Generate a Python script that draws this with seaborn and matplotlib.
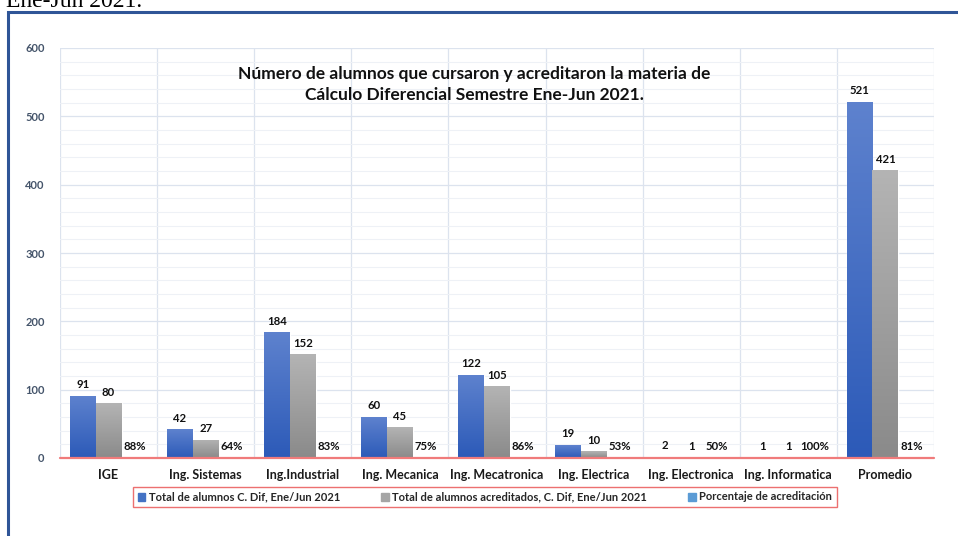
import numpy as np
import pandas as pd
import matplotlib
matplotlib.use("Agg")
import matplotlib.pyplot as plt
import seaborn as sns
from matplotlib.patches import Rectangle
from matplotlib.colors import LinearSegmentedColormap
from matplotlib.ticker import MultipleLocator

categories = ["IGE", "Ing. Sistemas", "Ing.Industrial", "Ing. Mecanica", "Ing. Mecatronica",
              "Ing. Electrica", "Ing. Electronica", "Ing. Informatica", "Promedio"]
total_alumnos = [91, 42, 184, 60, 122, 19, 2, 1, 521]
acreditados = [80, 27, 152, 45, 105, 10, 1, 1, 421]
porcentaje = [0.88, 0.64, 0.83, 0.75, 0.86, 0.53, 0.50, 1.00, 0.81]
series_names = ["Total de alumnos C. Dif, Ene/Jun 2021",
                "Total de alumnos acreditados, C. Dif, Ene/Jun 2021",
                "Porcentaje de acreditación"]
title_text = "Número de alumnos que cursaron y acreditaron la materia de\nCálculo Diferencial Semestre Ene-Jun 2021."

sns.set_theme(style="white")
plt.rcParams['font.family'] = ['Lato', 'DejaVu Sans']

df = pd.DataFrame({
    "cat": categories * 3,
    "serie": [series_names[0]] * 9 + [series_names[1]] * 9 + [series_names[2]] * 9,
    "valor": total_alumnos + acreditados + porcentaje,
})

colors = ["#4472C4", "#A5A5A5", "#5B9BD5"]
grad_top = ["#5E82CE", "#B4B4B4", "#5B9BD5"]
grad_bot = ["#2C5AB8", "#8A8A8A", "#5B9BD5"]

fig = plt.figure(figsize=(9.58, 5.36), dpi=100)
ax = fig.add_axes([60 / 958, 78 / 536, (934 - 60) / 958, (458 - 48) / 536])

sns.barplot(data=df, x="cat", y="valor", hue="serie", hue_order=series_names,
            order=categories, palette=colors, width=0.8, ax=ax, legend=False,
            saturation=1, errorbar=None)

ax.set_ylim(0, 600)
ax.set_xlim(-0.5, 8.5)
ax.yaxis.set_major_locator(MultipleLocator(100))
ax.yaxis.set_minor_locator(MultipleLocator(20))
ax.grid(True, which="major", axis="y", color="#DCE3EE", lw=0.9)
ax.grid(True, which="minor", axis="y", color="#EEF1F6", lw=0.8)
ax.set_axisbelow(True)
for b in np.arange(-0.5, 9.0, 1.0):
    ax.axvline(b, color="#DCE3EE", lw=0.9, zorder=0)
for s in ax.spines.values():
    s.set_visible(False)
ax.set_xlabel("")
ax.set_ylabel("")
ax.tick_params(axis="both", which="both", length=0)
ax.tick_params(axis="x", pad=8)
ax.tick_params(axis="y", pad=11)
for lab in ax.get_yticklabels():
    lab.set_fontweight("bold")
    lab.set_fontsize(8)
    lab.set_color("#44546A")
for lab in ax.get_xticklabels():
    lab.set_fontweight("bold")
    lab.set_fontsize(9)
    lab.set_color("#1A1A1A")

# gradient fill + labels
for i, cont in enumerate(ax.containers):
    cmap = LinearSegmentedColormap.from_list("g", [grad_bot[i], grad_top[i]])
    for j, bar in enumerate(cont):
        x0 = bar.get_x()
        w = bar.get_width()
        h = bar.get_height()
        if i < 2 and h > 0:
            grad = np.linspace(0, 1, 256).reshape(-1, 1)
            im = ax.imshow(grad, extent=[x0, x0 + w, 0, h], origin="lower",
                           cmap=cmap, aspect="auto", zorder=3)
            im.set_clip_path(bar)
        if i < 2:
            txt = f"{int(h)}"
        else:
            txt = f"{int(round(h * 100))}%"
        ax.annotate(txt, (x0 + w / 2, h), xytext=(0, 8), textcoords="offset points",
                    ha="center", va="center", fontsize=8.2, fontweight="bold",
                    color="#111111", zorder=6)
ax.set_xlim(-0.5, 8.5)
ax.set_ylim(0, 600)
ax.axhline(0, color="#F07B7B", lw=1.6, zorder=7, clip_on=False)

ax.text(0.474, 0.955, title_text, transform=ax.transAxes, ha="center", va="top",
        fontsize=12.5, fontweight="bold", color="#111111", linespacing=1.35)

handles = [Rectangle((0, 0), 1, 1, color=c) for c in colors]
leg = fig.legend(handles, series_names, loc="center", bbox_to_anchor=(485 / 958, 1 - 497 / 536),
                 ncol=3, frameon=True, fancybox=False, handlelength=0.7,
                 handleheight=0.7, handletextpad=0.3, columnspacing=3.7,
                 borderpad=0.4, prop={"weight": "bold", "size": 8})
leg.get_frame().set_edgecolor("#E84C4C")
leg.get_frame().set_linewidth(1.0)

fig.add_artist(Rectangle((8 / 958, -0.2), 1.3, 1.2 - 12 / 536, fill=False,
                         edgecolor="#2F5597", lw=2.2, transform=fig.transFigure))
fig.text(6 / 958, 1 - 7 / 536, "Ene-Jun 2021.", family=["Liberation Serif"], fontsize=17,
         ha="left", va="baseline", color="black")

fig.savefig("out.png", dpi=100)
